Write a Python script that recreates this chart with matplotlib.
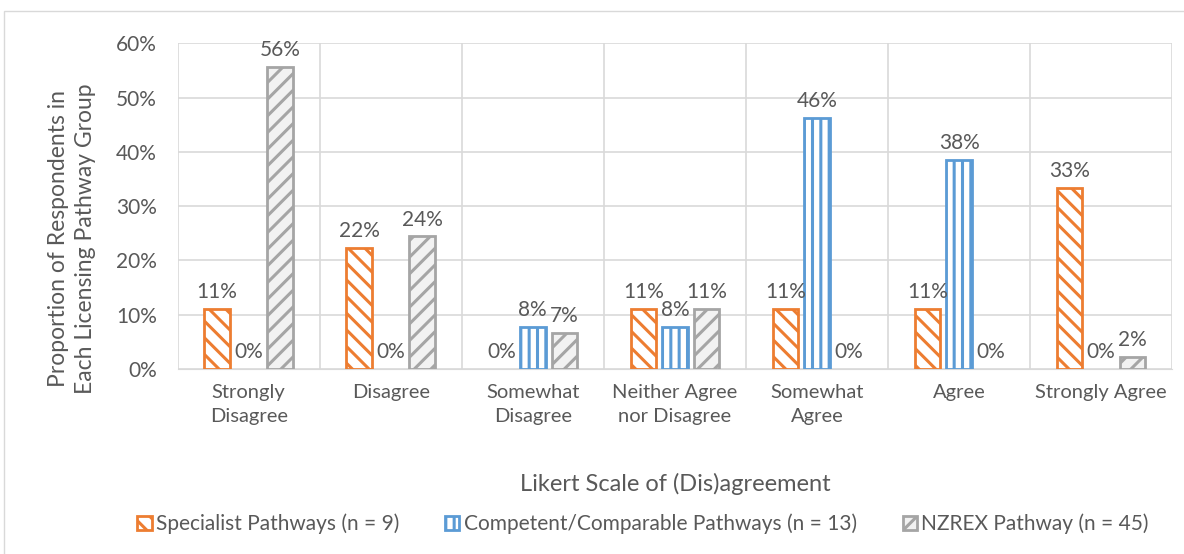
import matplotlib.pyplot as plt
import matplotlib.patches as mpatches
import numpy as np

plt.rcParams['font.family'] = ['Lato', 'DejaVu Sans']
plt.rcParams['hatch.linewidth'] = 2.2

categories = ["Strongly\nDisagree", "Disagree", "Somewhat\nDisagree", "Neither Agree\nnor Disagree",
              "Somewhat\nAgree", "Agree", "Strongly Agree"]
specialist = [11.1, 22.2, 0, 11.1, 11.1, 11.1, 33.3]
competent = [0, 0, 7.7, 7.7, 46.2, 38.5, 0]
nzrex = [55.6, 24.4, 6.7, 11.1, 0, 0, 2.2]
series_names = ["Specialist Pathways (n = 9)", "Competent/Comparable Pathways (n = 13)", "NZREX Pathway (n = 45)"]

txt = '#595959'
fig = plt.figure(figsize=(11.84, 5.54), dpi=100)
ax = fig.add_axes([0.150, 0.334, 0.840, 0.588])

x = np.arange(len(categories))
w = 0.18
styles = [
    (specialist, '#ED7D31', 'white', '\\\\'),
    (competent, '#5B9BD5', 'white', '||'),
    (nzrex, '#A5A5A5', '#F2F2F2', '//'),
]
handles = []
for i, (vals, col, fill, hatch) in enumerate(styles):
    pos = x + (i - 1) * 0.222
    lw = [0 if v == 0 else 2 for v in vals]
    ax.bar(pos, vals, w, color=fill, edgecolor=col, hatch=hatch, linewidth=lw, zorder=3)
    handles.append(mpatches.Patch(facecolor=fill, edgecolor=col, hatch=hatch, linewidth=2))
    for p, v in zip(pos, vals):
        ax.annotate(f"{v:.0f}%", (p, v), xytext=(0, 5), textcoords='offset points',
                    ha='center', va='bottom', fontsize=15, color=txt, zorder=4)

ax.set_xlim(-0.5, 6.5)
ax.set_ylim(0, 60)
ax.set_yticks(np.arange(0, 61, 10))
ax.set_yticklabels([f"{v}%" for v in range(0, 61, 10)], fontsize=15, color=txt)
ax.set_xticks(x)
ax.set_xticklabels(categories, fontsize=14.5, color=txt, linespacing=1.5)
ax.set_xticks(np.arange(-0.5, 7, 1), minor=True)
ax.tick_params(axis='both', which='both', length=0)
ax.tick_params(axis='y', pad=15)
ax.tick_params(axis='x', pad=11)
ax.grid(axis='y', color='#D9D9D9', linewidth=1.2, zorder=0)
ax.grid(axis='x', which='minor', color='#D9D9D9', linewidth=1.2, zorder=0)
for s in ax.spines.values():
    s.set_visible(False)
ax.spines['bottom'].set_visible(True)
ax.spines['bottom'].set_color('#D9D9D9')

ax.set_ylabel("Proportion of Respondents in\nEach Licensing Pathway Group", fontsize=16.5, color=txt,
              linespacing=1.35)
ax.yaxis.set_label_coords(-0.082, 0.40)
ax.set_xlabel("Likert Scale of (Dis)agreement", fontsize=17, color=txt, labelpad=34)

fig.legend(handles=handles, labels=series_names, loc='center', bbox_to_anchor=(0.543, 0.054), ncol=3,
           frameon=False, fontsize=15, labelcolor=txt, handlelength=0.7, handleheight=0.7,
           handletextpad=0.2, columnspacing=2.2)

fig.patches.append(mpatches.Rectangle((0.003, -0.01), 1.2, 0.99, transform=fig.transFigure,
                                      fill=False, edgecolor='#D9D9D9', linewidth=1))

fig.savefig("out.png", dpi=100)
